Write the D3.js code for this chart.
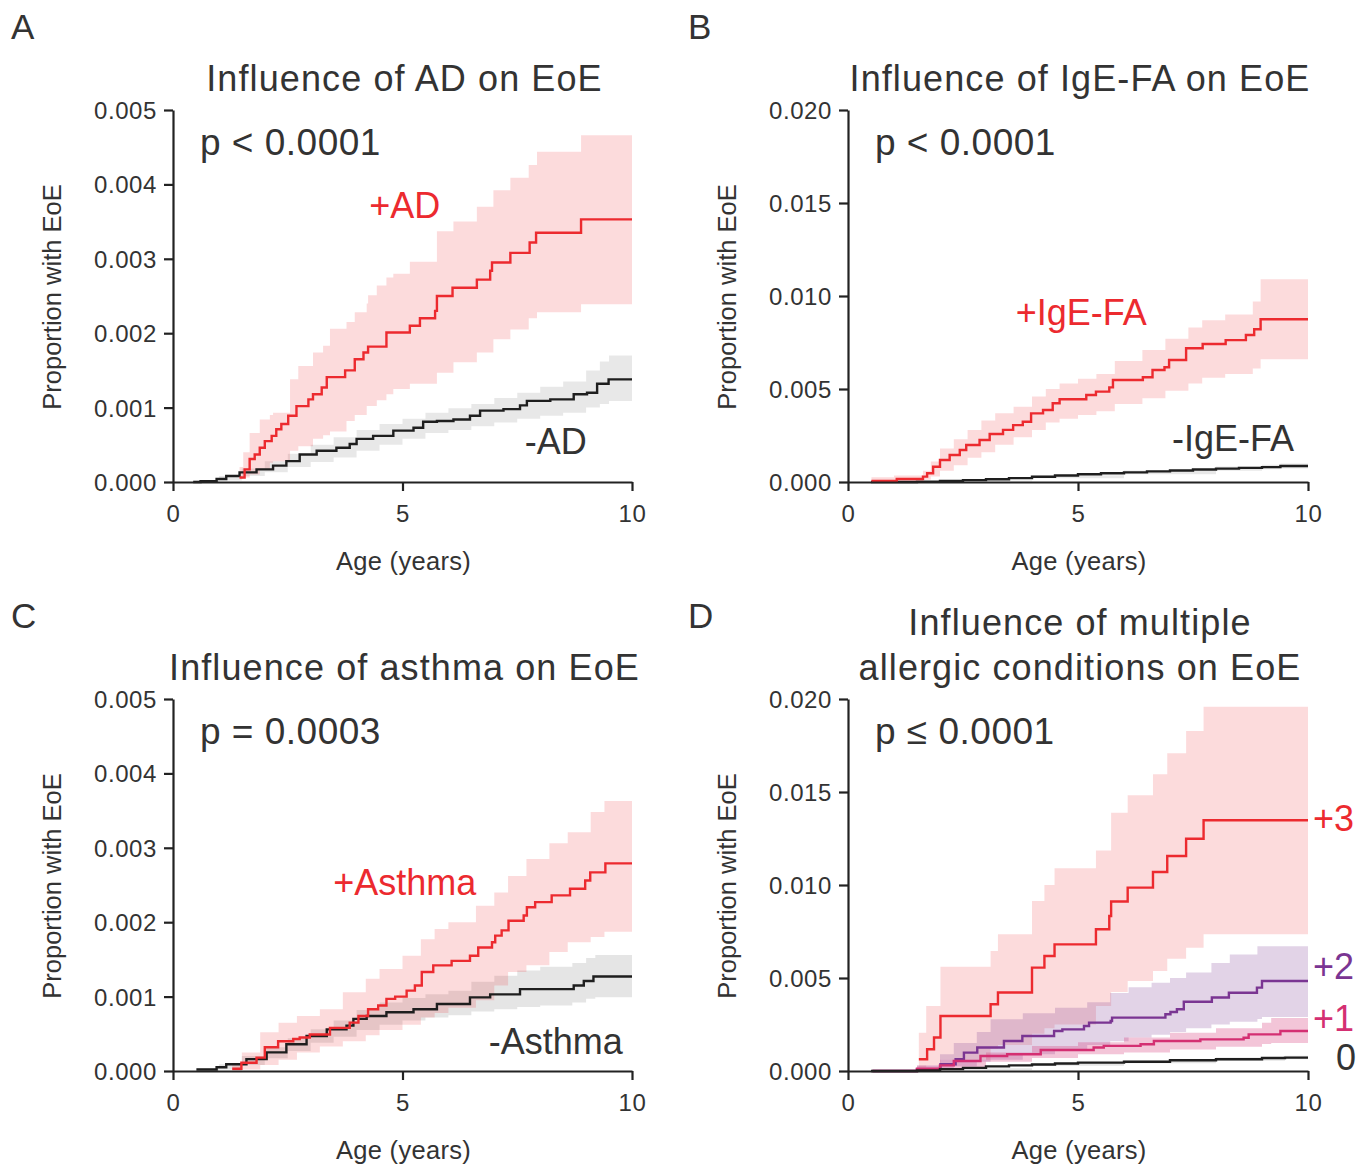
<!DOCTYPE html>
<html>
<head>
<meta charset="utf-8">
<script src="https://cdn.jsdelivr.net/npm/d3@7"></script>
<style>
  html, body { margin: 0; padding: 0; background: #fff; }
  svg { display: block; font-family: "Liberation Sans", Arial, Helvetica, sans-serif; }
</style>
</head>
<body>
<svg id="chart" width="1371" height="1167"></svg>
<script>
// ---------------- DATA (values in units of 0.001 = per mille) ----------------
// Panel A: Influence of AD on EoE
const adPosT  = [1.45,1.56,1.67,1.78,1.89,2.0,2.15,2.25,2.36,2.51,2.69,2.95,3.05,3.24,3.35,3.75,3.96,4.15,4.25,4.65,5.16,5.38,5.71,5.75,6.09,6.62,6.91,6.95,7.35,7.77,7.91,8.89,10.0];
const adPosV  = [0.06,0.17,0.31,0.37,0.46,0.55,0.62,0.71,0.78,0.89,1.02,1.11,1.18,1.27,1.41,1.50,1.65,1.74,1.82,2.01,2.10,2.20,2.30,2.50,2.61,2.72,2.84,2.95,3.08,3.22,3.35,3.53,3.53];
const adPosBandT  = [1.45,1.53,1.67,1.89,2.11,2.18,2.55,2.73,3.05,3.27,3.42,3.78,3.96,4.22,4.25,4.44,4.65,4.8,5.16,5.75,6.11,6.62,6.98,7.35,7.75,7.93,8.89,10.0];
const adPosBandLo = [0.04,0.06,0.10,0.17,0.26,0.28,0.42,0.48,0.58,0.63,0.68,0.82,0.90,1.02,1.02,1.10,1.18,1.25,1.32,1.47,1.61,1.74,1.92,2.05,2.20,2.28,2.39,2.39];
const adPosBandHi = [0.20,0.40,0.66,0.84,0.90,0.93,1.38,1.56,1.74,1.83,2.06,2.15,2.28,2.40,2.51,2.64,2.75,2.80,2.96,3.37,3.50,3.70,3.92,4.09,4.26,4.44,4.66,4.66];
const adNegT  = [0.44,0.6,0.95,1.16,1.45,1.82,2.18,2.47,2.76,3.13,3.56,3.85,4.0,4.36,4.8,5.24,5.45,5.75,6.11,6.47,6.69,7.2,7.56,7.71,8.22,8.73,9.02,9.24,9.49,10.0];
const adNegV  = [0.0,0.01,0.04,0.08,0.13,0.17,0.22,0.28,0.37,0.42,0.46,0.51,0.58,0.62,0.69,0.73,0.81,0.82,0.84,0.89,0.96,0.98,1.03,1.09,1.11,1.18,1.20,1.32,1.38,1.38];
const adNegBandT  = [0.44,1.0,1.5,2.0,2.5,3.0,3.5,4.0,4.5,5.0,5.5,6.0,6.5,7.0,7.5,8.0,8.5,9.0,9.3,9.5,10.0];
const adNegBandLo = [0.0,0.02,0.08,0.13,0.20,0.27,0.33,0.42,0.50,0.58,0.66,0.70,0.75,0.80,0.85,0.89,0.93,1.00,1.05,1.09,1.09];
const adNegBandHi = [0.02,0.08,0.18,0.28,0.38,0.50,0.60,0.70,0.78,0.85,0.93,0.99,1.05,1.13,1.20,1.28,1.35,1.50,1.62,1.70,1.70];

// Panel B: Influence of IgE-FA on EoE
const faPosT  = [0.51,1.06,1.63,1.72,1.85,2.0,2.21,2.43,2.57,2.86,3.08,3.37,3.59,3.80,3.98,4.24,4.45,4.60,5.18,5.39,5.68,5.76,6.41,6.62,6.88,6.98,7.35,7.71,8.21,8.65,8.83,8.97,10.0];
const faPosV  = [0.05,0.16,0.29,0.47,0.82,1.18,1.45,1.72,1.99,2.26,2.58,2.80,3.06,3.24,3.69,3.87,4.23,4.45,4.68,4.86,5.09,5.48,5.63,6.02,6.17,6.56,7.19,7.42,7.63,7.90,8.21,8.75,8.75];
const faPosBandT  = [0.51,1.0,1.63,1.8,2.0,2.3,2.6,2.9,3.2,3.6,4.0,4.3,4.6,5.0,5.4,5.8,6.4,6.9,7.4,7.7,8.2,8.8,8.97,10.0];
const faPosBandLo = [0.0,0.05,0.12,0.30,0.60,0.90,1.30,1.60,2.00,2.40,2.80,3.20,3.40,3.60,3.80,4.20,4.50,4.90,5.30,5.60,5.80,6.10,6.60,6.60];
const faPosBandHi = [0.25,0.35,0.60,1.10,1.80,2.30,2.80,3.30,3.70,4.05,4.60,5.00,5.30,5.55,5.80,6.50,7.10,7.70,8.30,8.70,9.00,9.70,10.90,10.90];
const faNegT  = [0.5,1.5,2.0,2.5,3.0,3.5,4.0,4.5,5.0,5.5,6.0,6.5,7.0,7.5,8.0,8.5,9.0,9.4,10.0];
const faNegV  = [0.0,0.02,0.05,0.10,0.15,0.21,0.28,0.35,0.42,0.47,0.52,0.57,0.62,0.67,0.72,0.76,0.80,0.86,0.86];
const faNegBandT  = [0.5,2.0,4.0,6.0,8.0,9.0,9.4,10.0];
const faNegBandLo = [0.0,0.03,0.20,0.42,0.60,0.68,0.72,0.72];
const faNegBandHi = [0.02,0.08,0.36,0.62,0.84,0.93,1.00,1.00];

// Panel C: Influence of asthma on EoE
const asPosT  = [1.29,1.49,1.82,2.0,2.29,2.62,2.76,2.98,3.42,3.85,4.04,4.25,4.47,4.65,4.84,5.09,5.27,5.42,5.67,6.07,6.47,6.65,6.95,7.02,7.16,7.31,7.64,7.71,7.89,8.25,8.65,8.98,9.09,9.42,10.0];
const asPosV  = [0.03,0.11,0.18,0.32,0.40,0.43,0.45,0.49,0.58,0.65,0.74,0.83,0.88,0.97,1.00,1.08,1.15,1.33,1.42,1.48,1.55,1.66,1.73,1.82,1.89,2.02,2.09,2.20,2.27,2.36,2.45,2.56,2.67,2.79,2.79];
const asPosBandT  = [1.29,1.5,1.9,2.3,2.7,3.2,3.7,4.2,4.5,5.0,5.4,5.7,6.0,6.6,7.0,7.3,7.7,8.2,8.6,9.1,9.4,10.0];
const asPosBandLo = [0.0,0.02,0.08,0.15,0.25,0.33,0.40,0.48,0.55,0.62,0.72,0.78,0.85,0.95,1.15,1.33,1.42,1.60,1.73,1.80,1.87,1.95];
const asPosBandHi = [0.08,0.25,0.52,0.65,0.74,0.83,1.06,1.24,1.37,1.55,1.77,1.91,2.00,2.22,2.40,2.62,2.85,3.06,3.21,3.48,3.63,3.63];
const asNegT  = [0.51,0.95,1.16,1.6,2.04,2.47,2.91,3.35,3.78,3.93,4.22,4.65,5.24,5.75,6.47,6.91,7.56,8.73,8.95,9.16,10.0];
const asNegV  = [0.02,0.05,0.09,0.16,0.25,0.36,0.47,0.56,0.61,0.70,0.74,0.79,0.83,0.90,0.99,1.03,1.10,1.15,1.21,1.27,1.27];
const asNegBandT  = [0.51,1.0,1.5,2.0,2.5,3.0,3.5,4.0,4.5,5.0,5.5,6.0,6.5,7.0,7.5,8.0,8.7,9.0,9.2,10.0];
const asNegBandLo = [0.0,0.02,0.08,0.17,0.27,0.38,0.46,0.55,0.62,0.68,0.72,0.75,0.80,0.83,0.86,0.88,0.92,0.97,0.99,0.99];
const asNegBandHi = [0.04,0.09,0.20,0.32,0.44,0.56,0.68,0.82,0.92,0.98,1.03,1.08,1.20,1.28,1.35,1.40,1.45,1.52,1.56,1.56];

// Panel D: Influence of multiple allergic conditions on EoE
const m3T  = [1.54,1.72,1.87,2.01,3.10,3.26,4.0,4.27,4.49,5.39,5.68,5.72,6.08,6.63,6.94,7.35,7.73,10.0];
const m3V  = [0.63,1.17,1.80,2.96,3.59,4.22,5.56,6.18,6.81,7.62,8.33,9.11,9.86,10.70,11.56,12.49,13.48,13.48];
const m3BandT  = [1.54,1.7,2.01,3.10,3.26,4.0,4.27,4.49,5.39,5.72,6.08,6.63,6.94,7.35,7.73,10.0];
const m3BandLo = [0.2,0.3,0.6,1.2,1.4,2.0,2.3,2.5,3.5,4.25,4.84,5.38,6.04,6.63,7.35,7.35];
const m3BandHi = [2.06,3.5,5.61,6.45,7.35,9.14,10.0,10.9,11.86,13.89,14.82,15.95,17.08,18.28,19.59,19.59];
const m2T  = [0.53,1.5,2.01,2.34,2.52,2.81,3.39,3.79,4.48,4.66,5.13,5.24,5.71,5.74,6.90,7.01,7.15,7.30,7.91,8.28,8.89,9.0,10.0];
const m2V  = [0.0,0.10,0.36,0.63,0.99,1.26,1.61,1.88,2.15,2.24,2.42,2.60,2.69,2.87,3.05,3.17,3.32,3.72,3.95,4.21,4.48,4.84,4.84];
const m2BandT  = [0.53,1.5,2.0,2.3,2.8,3.1,3.8,4.5,5.2,5.7,6.1,6.6,7.0,7.35,7.9,8.3,8.9,9.0,10.0];
const m2BandLo = [0.0,0.02,0.10,0.25,0.50,0.60,0.90,1.15,1.40,1.60,1.80,1.95,2.10,2.30,2.50,2.65,2.80,2.90,2.90];
const m2BandHi = [0.05,0.30,0.90,1.50,2.10,2.78,3.10,3.40,3.70,4.20,4.50,4.74,5.00,5.29,5.80,6.27,6.71,6.71,6.71];
const m1T  = [0.53,1.5,2.0,2.30,2.88,3.46,4.19,5.34,5.56,6.36,6.65,7.66,8.60,8.71,9.40,10.0];
const m1V  = [0.0,0.12,0.30,0.54,0.81,0.90,1.13,1.26,1.35,1.44,1.61,1.70,1.79,1.97,2.15,2.15];
const m1BandT  = [0.53,1.5,2.0,3.0,4.0,5.0,6.0,7.0,8.0,9.0,9.2,10.0];
const m1BandLo = [0.0,0.05,0.15,0.50,0.70,0.90,1.00,1.15,1.30,1.45,1.50,1.50];
const m1BandHi = [0.05,0.30,0.60,1.00,1.35,1.55,1.80,2.05,2.30,2.60,2.85,2.85];
const m0T  = [0.5,1.5,2.0,2.5,3.0,3.5,4.0,4.5,5.0,6.0,7.0,8.0,9.0,9.5,10.0];
const m0V  = [0.0,0.03,0.10,0.17,0.25,0.30,0.35,0.40,0.45,0.50,0.58,0.63,0.70,0.72,0.72];
const m0BandT  = [0.5,2.0,4.0,6.0,8.0,9.5,10.0];
const m0BandLo = [0.0,0.05,0.28,0.42,0.55,0.63,0.63];
const m0BandHi = [0.02,0.15,0.42,0.58,0.72,0.82,0.82];

// Tick labels
const xTickValues = [0, 5, 10];
const yTicksSmall = [0, 0.001, 0.002, 0.003, 0.004, 0.005];
const yTicksLarge = [0, 0.005, 0.010, 0.015, 0.020];

// ---------------- RENDERING ----------------
const svg = d3.select("#chart");
const TEXT = "#333333";
const AXIS = "#222222";
const RED = "#ec2a2f";
const BLACK = "#1e1e1e";
const PURPLE = "#7a3592";
const PINK = "#d42f72";

function pts(t, v) { return t.map((d, i) => ({ t: d, v: v[i] / 1000 })); }
function band(t, lo, hi) { return t.map((d, i) => ({ t: d, lo: lo[i] / 1000, hi: hi[i] / 1000 })); }

const panels = [
  { letter: "A", lx: 11, ly: 39, x0: 173, x1: 632, yb: 482, yt: 110, yMax: 0.005, yTicks: yTicksSmall,
    title: ["Influence of AD on EoE"], p: "p < 0.0001",
    series: [
      { line: pts(adNegT, adNegV), band: band(adNegBandT, adNegBandLo, adNegBandHi), color: BLACK, fill: "rgba(0,0,0,0.09)" },
      { line: pts(adPosT, adPosV), band: band(adPosBandT, adPosBandLo, adPosBandHi), color: RED, fill: "rgba(236,42,47,0.17)" }
    ],
    labels: [
      { text: "+AD", t: 5.05, v: 0.00355, color: RED, anchor: "middle" },
      { text: "-AD", t: 8.34, v: 0.00038, color: TEXT, anchor: "middle" }
    ] },
  { letter: "B", lx: 688, ly: 39, x0: 848, x1: 1308, yb: 482, yt: 110, yMax: 0.020, yTicks: yTicksLarge,
    title: ["Influence of IgE-FA on EoE"], p: "p < 0.0001",
    series: [
      { line: pts(faNegT, faNegV), band: band(faNegBandT, faNegBandLo, faNegBandHi), color: BLACK, fill: "rgba(0,0,0,0.09)" },
      { line: pts(faPosT, faPosV), band: band(faPosBandT, faPosBandLo, faPosBandHi), color: RED, fill: "rgba(236,42,47,0.17)" }
    ],
    labels: [
      { text: "+IgE-FA", t: 5.07, v: 0.00844, color: RED, anchor: "middle" },
      { text: "-IgE-FA", t: 8.37, v: 0.00167, color: TEXT, anchor: "middle" }
    ] },
  { letter: "C", lx: 11, ly: 628, x0: 173, x1: 632, yb: 1071, yt: 699, yMax: 0.005, yTicks: yTicksSmall,
    title: ["Influence of asthma on EoE"], p: "p = 0.0003",
    series: [
      { line: pts(asNegT, asNegV), band: band(asNegBandT, asNegBandLo, asNegBandHi), color: BLACK, fill: "rgba(0,0,0,0.10)" },
      { line: pts(asPosT, asPosV), band: band(asPosBandT, asPosBandLo, asPosBandHi), color: RED, fill: "rgba(236,42,47,0.17)" }
    ],
    labels: [
      { text: "+Asthma", t: 5.05, v: 0.00237, color: RED, anchor: "middle" },
      { text: "-Asthma", t: 8.34, v: 0.00023, color: TEXT, anchor: "middle" }
    ] },
  { letter: "D", lx: 688, ly: 628, x0: 848, x1: 1308, yb: 1071, yt: 699, yMax: 0.020, yTicks: yTicksLarge,
    title: ["Influence of multiple", "allergic conditions on EoE"], p: "p \u2264 0.0001",
    series: [
      { line: pts(m3T, m3V), band: band(m3BandT, m3BandLo, m3BandHi), color: RED, fill: "rgba(236,42,47,0.17)" },
      { line: pts(m2T, m2V), band: band(m2BandT, m2BandLo, m2BandHi), color: PURPLE, fill: "rgba(122,53,146,0.22)" },
      { line: pts(m1T, m1V), band: band(m1BandT, m1BandLo, m1BandHi), color: PINK, fill: "rgba(212,47,114,0.28)" },
      { line: pts(m0T, m0V), band: band(m0BandT, m0BandLo, m0BandHi), color: BLACK, fill: "rgba(0,0,0,0.10)" }
    ],
    labels: [
      { text: "+3", px: 1313, v: 0.01288, color: RED, anchor: "start" },
      { text: "+2", px: 1313, v: 0.00493, color: PURPLE, anchor: "start" },
      { text: "+1", px: 1313, v: 0.00215, color: PINK, anchor: "start" },
      { text: "0", px: 1336, v: 0.00005, color: TEXT, anchor: "start" }
    ] }
];

panels.forEach(P => {
  const x = d3.scaleLinear().domain([0, 10]).range([P.x0, P.x1]);
  const y = d3.scaleLinear().domain([0, P.yMax]).range([P.yb, P.yt]);
  const g = svg.append("g");

  // panel letter
  g.append("text").attr("x", P.lx).attr("y", P.ly).attr("fill", TEXT)
    .style("font-size", "35px").text(P.letter);

  // title
  const cx = (P.x0 + P.x1) / 2;
  const nl = P.title.length;
  P.title.forEach((line, i) => {
    g.append("text").attr("x", cx + 2).attr("y", P.yt - 19 - (nl - 1 - i) * 45)
      .attr("text-anchor", "middle").attr("fill", TEXT)
      .style("font-size", "36px").style("letter-spacing", "1.1px").text(line);
  });

  // bands
  const area = d3.area().curve(d3.curveStepAfter)
    .x(d => x(d.t)).y0(d => y(d.lo)).y1(d => y(d.hi));
  P.series.forEach(s => {
    g.append("path").datum(s.band).attr("d", area).attr("fill", s.fill).attr("stroke", "none");
  });
  // lines
  const line = d3.line().curve(d3.curveStepAfter).x(d => x(d.t)).y(d => y(d.v));
  P.series.forEach(s => {
    g.append("path").datum(s.line).attr("d", line).attr("fill", "none")
      .attr("stroke", s.color).attr("stroke-width", 2.4).attr("stroke-linejoin", "miter");
  });

  // axes
  const yAxis = d3.axisLeft(y).tickValues(P.yTicks).tickFormat(d3.format(".3f"))
    .tickSize(9).tickSizeOuter(0).tickPadding(7);
  const xAxis = d3.axisBottom(x).tickValues(xTickValues).tickFormat(d3.format("d"))
    .tickSize(9).tickSizeOuter(0).tickPadding(8);
  const ya = g.append("g").attr("transform", `translate(${P.x0},0)`).call(yAxis);
  const xa = g.append("g").attr("transform", `translate(0,${P.yb})`).call(xAxis);
  [ya, xa].forEach(a => {
    a.select(".domain").attr("stroke", AXIS).attr("stroke-width", 2.2);
    a.selectAll(".tick line").attr("stroke", AXIS).attr("stroke-width", 2.2);
    a.selectAll(".tick text").attr("fill", TEXT).style("font-size", "24px")
      .style("letter-spacing", "0.6px")
      .style("font-family", '"Liberation Sans", Arial, sans-serif');
  });
  xa.selectAll(".tick text").attr("dy", "0.95em");
  ya.selectAll(".tick text").attr("dy", "0.35em");

  // axis labels
  g.append("text").attr("x", cx + 1).attr("y", P.yb + 88).attr("text-anchor", "middle")
    .attr("fill", TEXT).style("font-size", "25.5px").style("letter-spacing", "0.3px").text("Age (years)");
  g.append("text").attr("transform", `translate(${P.x0 - 112},${(P.yb + P.yt) / 2 + 1}) rotate(-90)`)
    .attr("text-anchor", "middle").attr("fill", TEXT).style("font-size", "25.5px").text("Proportion with EoE");

  // p value
  g.append("text").attr("x", P.x0 + 27).attr("y", P.yt + 45).attr("fill", TEXT)
    .style("font-size", "37px").style("letter-spacing", "0.5px").text(P.p);

  // series labels
  P.labels.forEach(l => {
    g.append("text").attr("x", l.px !== undefined ? l.px : x(l.t)).attr("y", y(l.v))
      .attr("text-anchor", l.anchor).attr("fill", l.color).style("font-size", "36px").text(l.text);
  });
});
</script>
</body>
</html>
